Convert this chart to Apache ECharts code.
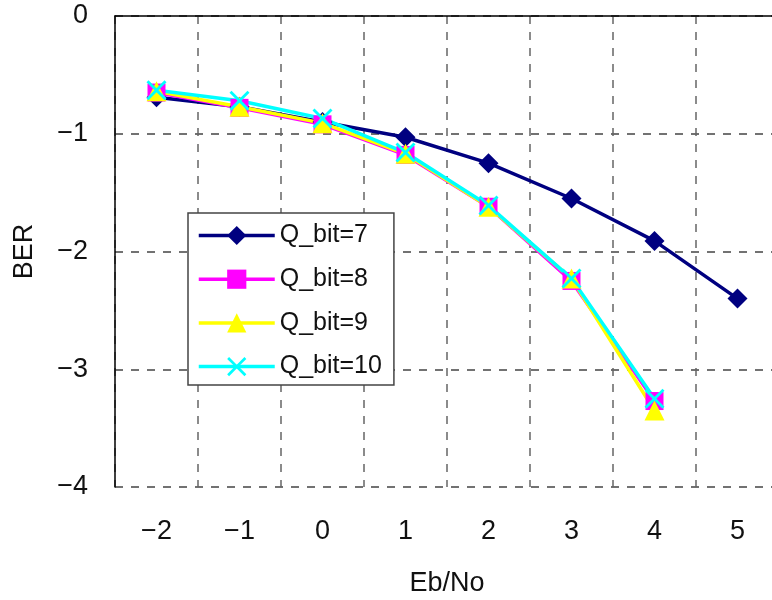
<!DOCTYPE html>
<html>
<head>
<meta charset="utf-8">
<script src="https://cdn.jsdelivr.net/npm/echarts@6/dist/echarts.min.js"></script>
<style>html,body{margin:0;padding:0;background:#fff;}#c{width:772px;height:600px;}</style>
</head>
<body>
<div id="c"></div>
<script>
const categories = ['\u22122', '\u22121', '0', '1', '2', '3', '4', '5'];
const q7 = [-0.69, -0.77, -0.90, -1.03, -1.25, -1.55, -1.91, -2.40];
const q8 = [-0.65, -0.78, -0.92, -1.18, -1.62, -2.25, -3.27, null];
const q9 = [-0.64, -0.77, -0.91, -1.17, -1.62, -2.23, -3.35, null];
const q10 = [-0.63, -0.72, -0.87, -1.16, -1.61, -2.23, -3.25, null];
const seriesNames = ['Q_bit=7', 'Q_bit=8', 'Q_bit=9', 'Q_bit=10'];

const FONT = 'Liberation Sans, Arial, sans-serif';
const crossPath = 'path://M0,1 L1,0 L5,4 L9,0 L10,1 L6,5 L10,9 L9,10 L5,6 L1,10 L0,9 L4,5 Z';

function mk(name, data, color, symbol, size) {
  return {
    name: name, type: 'line', data: data,
    symbol: symbol, symbolSize: size, showAllSymbol: true,
    lineStyle: {color: color, width: 3.5},
    itemStyle: {color: color},
    connectNulls: false,
    animation: false
  };
}

const chart = echarts.init(document.getElementById('c'));
chart.setOption({
  animation: false,
  backgroundColor: '#fff',
  grid: {left: 115, top: 16, right: -7, bottom: 113, outerBoundsMode: 'none', containLabel: false},
  legend: {
    orient: 'vertical', left: 188, top: 213,
    data: seriesNames,
    backgroundColor: '#fff', borderColor: '#444', borderWidth: 1.5,
    padding: [10, 12, 6, 9],
    itemWidth: 76, itemHeight: 24, itemGap: 18.7,
    lineStyle: {width: 3.5},
    textStyle: {fontFamily: FONT, fontSize: 25, color: '#111', lineHeight: 25}
  },
  xAxis: [{
    type: 'category', data: categories, position: 'bottom',
    name: 'Eb/No', nameLocation: 'middle', nameGap: 83,
    nameTextStyle: {fontFamily: FONT, fontSize: 27, color: '#111'},
    axisLine: {show: false}, axisTick: {show: false},
    axisLabel: {fontFamily: FONT, fontSize: 27, color: '#111', margin: 31},
    splitLine: {show: true, lineStyle: {color: '#666', type: [8, 8], width: 1.5}}
  }, {
    type: 'category', data: categories, position: 'top',
    axisLine: {show: true, lineStyle: {color: '#000', width: 1.5}},
    axisTick: {show: false}, axisLabel: {show: false}, splitLine: {show: false}
  }],
  yAxis: {
    type: 'value', min: -4, max: 0, interval: 1,
    name: 'BER', nameLocation: 'middle', nameGap: 77,
    nameTextStyle: {fontFamily: FONT, fontSize: 27, color: '#111'},
    axisLine: {show: true, lineStyle: {color: '#000', width: 1.5}},
    axisTick: {show: false},
    axisLabel: {fontFamily: FONT, fontSize: 27, color: '#111', margin: 27,
      formatter: v => v < 0 ? '\u2212' + Math.abs(v) : String(v)},
    splitLine: {show: true, lineStyle: {color: '#444', type: [8, 8], width: 1.5}}
  },
  series: [
    mk(seriesNames[0], q7, '#000080', 'diamond', 20),
    mk(seriesNames[1], q8, '#FF00FF', 'rect', 18),
    mk(seriesNames[2], q9, '#FFFF00', 'triangle', 20),
    mk(seriesNames[3], q10, '#00FFFF', crossPath, 20)
  ]
});
</script>
</body>
</html>
